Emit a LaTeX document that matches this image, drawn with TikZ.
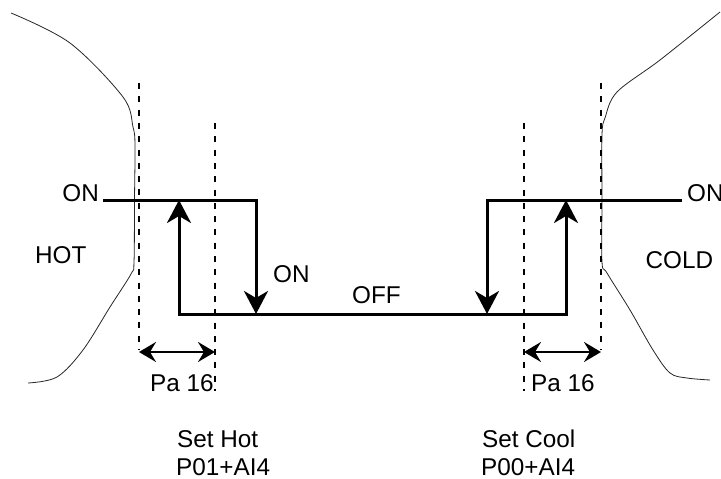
\documentclass[tikz,border=0pt]{standalone}
\usepackage{fontspec}
\setmainfont{Liberation Sans}
\usetikzlibrary{arrows.meta}
\begin{document}
\begin{tikzpicture}[x=1pt,y=-1pt,
  lbl/.style={inner sep=0pt,font=\fontsize{24.3}{28}\selectfont},
  thick line/.style={line width=3pt},
  bigarrow/.style={thick line,-{Stealth[length=23pt,width=24pt,inset=7pt]}},
  dimarrow/.style={line width=2.2pt,{Stealth[length=17pt,width=20pt,inset=6pt]}-{Stealth[length=17pt,width=20pt,inset=6pt]}},
  guide/.style={line width=2.6pt,dash pattern=on 6pt off 7.3pt},
  contour/.style={line width=0.8pt,black!85}]
\useasboundingbox (0,0) rectangle (721,479);
% coordinates
\coordinate (onL) at (103,200);
\coordinate (tl1) at (179,200);
\coordinate (tl2) at (256,200);
\coordinate (bl1) at (179,314);
\coordinate (bl2) at (256,314);
\coordinate (br1) at (487,314);
\coordinate (br2) at (566,314);
\coordinate (tr1) at (487,200);
\coordinate (tr2) at (566,200);
\coordinate (onR) at (682,200);
% dashed guides
\coordinate (gA1) at (139,83);  \coordinate (gA2) at (139,350);
\coordinate (gB1) at (215,123); \coordinate (gB2) at (215,391);
\coordinate (gC1) at (524,123); \coordinate (gC2) at (524,391);
\coordinate (gD1) at (601,83);  \coordinate (gD2) at (601,350);
\coordinate (dL1) at (139,352); \coordinate (dL2) at (215,352);
\coordinate (dR1) at (524,352); \coordinate (dR2) at (601,352);
% contours
\draw[contour] plot[smooth,tension=0.55] coordinates {(11,13) (70,43) (123,97) (133,127) (135,145) (134.5,200) (134,262) (131,274) (110,307) (83,350) (57,377) (28,383)};
\draw[contour] plot[smooth,tension=0.55] coordinates {(720,12) (660,60) (617,92) (605,118) (602,135) (602,200) (602,262) (607,273) (630,310) (653,350) (670,373) (687,378) (710,380)};
\draw[guide] (gA1) -- (gA2);
\draw[guide] (gB1) -- (gB2);
\draw[guide] (gC1) -- (gC2);
\draw[guide] (gD1) -- (gD2);
% hysteresis
\draw[thick line] (bl2) -- (br1);
\draw[bigarrow] (onL) -- (tl2) -- (bl2);
\draw[bigarrow] (bl2) -- (bl1) -- (tl1);
\draw[bigarrow] (onR) -- (tr1) -- (br1);
\draw[bigarrow] (br1) -- (br2) -- (tr2);
\draw[dimarrow] (dL1) -- (dL2);
\draw[dimarrow] (dR1) -- (dR2);
% labels
\node[lbl,anchor=base east] (tOnL) at (99,201) {ON};
\node[lbl,anchor=base west] (tHot) at (35,263) {HOT};
\node[lbl,anchor=base west] (tOnM) at (273,282) {ON};
\node[lbl,anchor=base west] (tOff) at (352,303) {OFF};
\node[lbl,anchor=base west] (tOnR) at (687,201) {ON};
\node[lbl,anchor=base west] (tCold) at (645.5,268) {COLD};
\node[lbl,anchor=base west] (tPaL) at (150,391) {Pa 16};
\node[lbl,anchor=base west] (tPaR) at (531,391) {Pa 16};
\node[lbl,anchor=base west] (tSetH) at (177,447) {Set Hot};
\node[lbl,anchor=base west] (tSetHp) at (176,475) {P01+AI4};
\node[lbl,anchor=base west] (tSetC) at (482,447) {Set Cool};
\node[lbl,anchor=base west] (tSetCp) at (481,475) {P00+AI4};
\end{tikzpicture}
\end{document}
